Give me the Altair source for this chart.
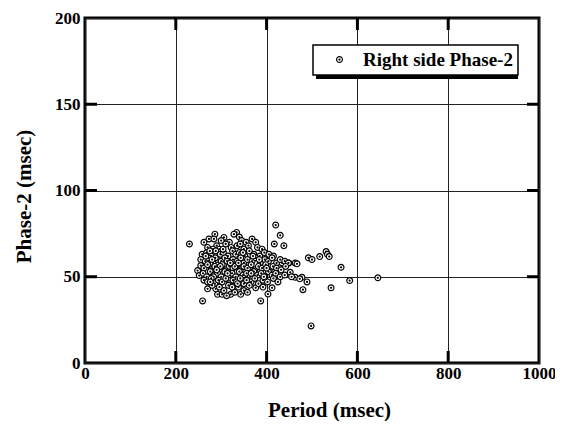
import altair as alt
import pandas as pd

# ---- data ----
period = [
    230, 420, 430, 417, 438, 492, 500, 259, 387, 403, 412, 480, 498, 489, 478, 463,
    452, 463, 449, 434, 286, 334, 328, 368, 376, 273, 284, 306, 248, 255, 251.5, 292,
    302, 321, 343, 270, 288, 376, 467, 517, 531, 534, 538, 564, 583, 645, 473, 542,
    340, 300, 318, 345, 355, 262,
    270, 290, 296, 310, 322, 335, 350, 360, 380, 390, 282, 342,
    258, 268, 278, 288, 298, 305, 315, 325, 332, 340, 352, 362, 372, 385, 395, 405, 415, 275, 345,
    255, 265, 272, 282, 292, 300, 308, 318, 326, 335, 343, 350, 358, 368, 376, 386, 396, 404,
    412, 422, 430, 440, 448, 287, 313,
    262, 270, 278, 286, 294, 302, 310, 318, 326, 334, 342, 350, 358, 366, 374, 382, 390, 398,
    406, 414, 422, 432, 442, 296, 330,
    260, 268, 276, 284, 292, 300, 308, 316, 324, 332, 340, 348, 356, 364, 372, 380, 388, 396,
    404, 412, 420, 430, 440, 455, 283,
    262, 270, 278, 286, 294, 302, 310, 318, 326, 334, 342, 350, 358, 366, 374, 382, 392, 402,
    415, 425,
    280, 296, 306, 316, 328, 338, 350, 362, 392,
    312, 330, 358,
    266, 280, 304, 314, 338, 348, 366, 384, 400, 276, 298, 324, 356, 370, 394, 290, 320, 336,
]
phase = [
    69, 80, 74, 69, 68, 61, 60, 36, 36, 40, 43.6, 42.5, 21.5, 47, 49.7, 49.7,
    52.6, 58, 58, 58, 74.7, 75.7, 74.7, 71.9, 70, 71.9, 71.9, 72.8, 53.6, 56.5, 50.7, 39.8,
    39.8, 39.8, 39.8, 43, 43, 43.6, 57.5, 61.7, 64.6, 63, 61.7, 55.5, 47.8, 49.4, 48.8, 43.6,
    73, 71, 70, 71, 70, 70,
    67, 68, 66, 69, 67, 68, 66, 68, 67, 66, 66, 69,
    63, 64, 62, 65, 63, 64, 62, 65, 63, 64, 62, 65, 63, 62, 64, 63, 62, 65, 63,
    60, 59, 61, 58, 60, 59, 61, 58, 60, 59, 61, 58, 60, 59, 61, 58, 60, 59,
    61, 58, 60, 59, 58, 61, 59,
    55, 57, 54, 56, 55, 57, 54, 56, 55, 57, 54, 56, 55, 57, 54, 56, 55, 57,
    54, 56, 55, 54, 56, 54, 56,
    52, 50, 53, 51, 52, 50, 53, 51, 52, 50, 53, 51, 52, 50, 53, 51, 52, 50,
    53, 51, 52, 50, 51, 50, 50,
    48, 47, 49, 46, 48, 47, 49, 46, 48, 47, 49, 46, 48, 47, 49, 46, 48, 47,
    49, 47,
    45, 44, 42, 45, 43, 44, 42, 45, 44,
    39, 41, 41,
    62, 60, 66, 52, 58, 64, 52, 60, 55, 47, 56, 44, 48, 62, 50, 54, 58, 46,
]
series_name = "Right side Phase-2"
x_ticks = [0, 200, 400, 600, 800, 1000]
y_ticks = [0, 50, 100, 150, 200]
x_inner_ticks = [200, 400, 600, 800]
y_inner_ticks = [50, 100, 150]

# ---- styling ----
W, H = 454, 345
FONT = "Liberation Serif"
RING = ("M -1 0 A 1 1 0 1 0 1 0 A 1 1 0 1 0 -1 0 Z "
        "M -0.18 0 A 0.18 0.18 0 1 0 0.18 0 A 0.18 0.18 0 1 0 -0.18 0 Z")

df = pd.DataFrame({"period": period, "phase": phase, "series": series_name})
xs = alt.Scale(domain=[0, 1000], nice=False, zero=False)
ys = alt.Scale(domain=[0, 200], nice=False, zero=False)

x_axis = alt.Axis(values=x_ticks, title="Period (msec)", grid=True, gridColor="#222",
                  gridWidth=1, ticks=False, domain=False, labelFont=FONT,
                  labelFontSize=17, labelFontWeight="bold", labelColor="black",
                  labelPadding=2, labelFlush=False, labelOverlap=False,
                  titleFont=FONT, titleFontSize=21, titleFontWeight="bold",
                  titleColor="black", titleX=244, titleY=53, titleAlign="center",
                  titleBaseline="alphabetic", format="d")
y_axis = alt.Axis(values=y_ticks, title="Phase-2 (msec)", grid=True, gridColor="#222",
                  gridWidth=1, ticks=False, domain=False, labelFont=FONT,
                  labelFontSize=17, labelFontWeight="bold", labelColor="black",
                  labelPadding=5, labelFlush=False, labelOverlap=False,
                  titleFont=FONT, titleFontSize=21, titleFontWeight="bold",
                  titleColor="black", titleAngle=270, titleX=-55, titleY=178,
                  titleAlign="center", titleBaseline="alphabetic", format="d")

legend = alt.Legend(title=None, orient="none", legendX=228, legendY=27,
                    labelFont=FONT, labelFontSize=19, labelFontWeight="bold",
                    labelColor="black", strokeColor="black", fillColor="white",
                    padding=5, symbolOffset=12, labelOffset=14, symbolType=RING,
                    symbolSize=34, symbolStrokeWidth=1.2, symbolFillColor="white",
                    symbolStrokeColor="black")

shadow = alt.Chart(pd.DataFrame({"k": [0]})).mark_rect(color="black").encode(
    x=alt.value(231), x2=alt.value(433), y=alt.value(30), y2=alt.value(61))

points = alt.Chart(df).mark_point(shape=RING, filled=False, fill="white", fillOpacity=1,
                                  strokeWidth=1.2, size=34, opacity=1).encode(
    x=alt.X("period:Q", scale=xs, axis=x_axis),
    y=alt.Y("phase:Q", scale=ys, axis=y_axis),
    color=alt.Color("series:N", scale=alt.Scale(range=["black"]), legend=legend),
)

xt = pd.DataFrame({"period": x_inner_ticks})
yt = pd.DataFrame({"phase": y_inner_ticks})
tick_style = dict(strokeWidth=3, color="black")
bottom_ticks = alt.Chart(xt).mark_rule(**tick_style).encode(
    x=alt.X("period:Q", scale=xs, axis=x_axis), y=alt.value(H), y2=alt.value(H - 12))
top_ticks = alt.Chart(xt).mark_rule(**tick_style).encode(
    x=alt.X("period:Q", scale=xs, axis=x_axis), y=alt.value(0), y2=alt.value(12))
left_ticks = alt.Chart(yt).mark_rule(**tick_style).encode(
    y=alt.Y("phase:Q", scale=ys, axis=y_axis), x=alt.value(0), x2=alt.value(12))
right_ticks = alt.Chart(yt).mark_rule(**tick_style).encode(
    y=alt.Y("phase:Q", scale=ys, axis=y_axis), x=alt.value(W), x2=alt.value(W - 12))

chart = alt.layer(shadow, points, bottom_ticks, top_ticks, left_ticks, right_ticks).properties(
    width=W, height=H,
    padding={"left": 77, "top": 10, "right": 16, "bottom": 58},
    autosize=alt.AutoSizeParams(type="none"),
).configure_view(stroke="black", strokeWidth=3).configure_legend(strokeWidth=1.5)

chart.save("out.html", embed_options={"renderer": "svg", "actions": False})
